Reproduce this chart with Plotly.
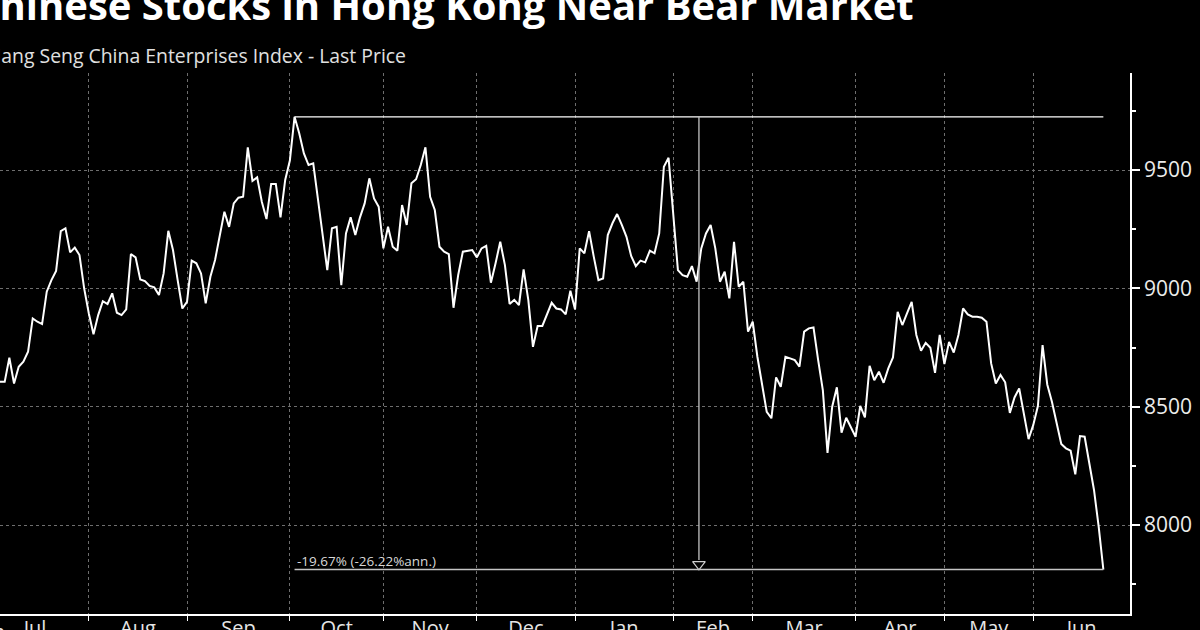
import plotly.graph_objects as go

# ---------------- data ----------------
values = [
    8605, 8605, 8707, 8598, 8669, 8690, 8732, 8873, 8859, 8849,
    8986, 9035, 9074, 9242, 9254, 9152, 9172, 9141, 9000, 8894,
    8806, 8887, 8946, 8934, 8979, 8897, 8887, 8911, 9145, 9131,
    9038, 9031, 9010, 9004, 8972, 9063, 9243, 9162, 9035, 8915,
    8943, 9117, 9106, 9063, 8937, 9049, 9120, 9218, 9324, 9260,
    9359, 9383, 9387, 9596, 9454, 9469, 9366, 9293, 9441, 9441,
    9300, 9458, 9540, 9725, 9655, 9570, 9521, 9528, 9373, 9218,
    9077, 9254, 9260, 9014, 9232, 9300, 9225, 9300, 9359, 9465,
    9380, 9345, 9169, 9260, 9176, 9159, 9352, 9268, 9444, 9461,
    9521, 9596, 9387, 9331, 9176, 9155, 9145, 8918, 9056, 9155,
    9159, 9162, 9131, 9169, 9180, 9024, 9106, 9197, 9098, 8934,
    8951, 8929, 9080, 8951, 8753, 8841, 8841, 8894, 8939, 8915,
    8911, 8890, 8990, 8911, 9169, 9148, 9242, 9134, 9035, 9042,
    9225, 9275, 9314, 9268, 9218, 9137, 9094, 9117, 9110, 9159,
    9148, 9232, 9514, 9552, 9310, 9077, 9056, 9049, 9094, 9028,
    9169, 9232, 9268, 9169, 9028, 9070, 8958, 9197, 9007, 9028,
    8817, 8859, 8711, 8591, 8478, 8451, 8624, 8584, 8711, 8704,
    8697, 8669, 8817, 8831, 8835, 8697, 8570, 8305, 8500, 8582,
    8390, 8453, 8415, 8373, 8503, 8455, 8673, 8612, 8648, 8601,
    8662, 8708, 8901, 8845, 8894, 8943, 8803, 8736, 8770, 8749,
    8643, 8803, 8680, 8774, 8729, 8803, 8915, 8890, 8880, 8880,
    8876, 8859, 8683, 8598, 8634, 8603, 8474, 8539, 8577, 8472,
    8363, 8422, 8503, 8760, 8594, 8521, 8432, 8342, 8324, 8314,
    8214, 8376, 8373, 8260, 8148, 7993, 7812,
]
days = list(range(len(values)))  # trading-day index

month_names = ["Jul", "Aug", "Sep", "Oct", "Nov", "Dec",
               "Jan", "Feb", "Mar", "Apr", "May", "Jun"]
month_starts = [-4, 19, 40, 62, 82, 102, 123, 144, 161, 183, 202, 221]
x_end = 241.7
first_label = "Jun"       # month label cut by the left edge

y_ticks = [8000, 8500, 9000, 9500]
change_text = "-19.67% (-26.22%ann.)"
title_text = "Chinese Stocks in Hong Kong Near Bear Market"
subtitle_text = "Hang Seng China Enterprises Index - Last Price"

# ---------------- derived ----------------
label_pos = [(month_starts[i] + (month_starts[i + 1] if i + 1 < len(month_starts) else x_end)) / 2
             for i in range(len(month_starts))]
peak_i = max(days, key=lambda i: values[i])
peak_v = values[peak_i]
last_i = days[-1]
last_v = values[-1]
mid_i = (peak_i + last_i) / 2

FONT = "Open Sans"
W, H = 1200, 630
ML, MR, MT, MB = 0, 70, 73, 16
PW, PH = W - ML - MR, H - MT - MB


def px(xp):
    return (xp - ML) / PW


def py(yp):
    return (H - MB - yp) / PH


fig = go.Figure()

fig.add_trace(go.Scatter(
    x=days, y=values, mode="lines",
    line=dict(color="#ffffff", width=2),
    hoverinfo="skip", showlegend=False,
))

# arrow head of the drawdown marker
fig.add_trace(go.Scatter(
    x=[mid_i], y=[last_v + 22], mode="markers",
    marker=dict(symbol="triangle-down-open", size=11, color="#d0d0d0",
                line=dict(width=1.2, color="#d0d0d0")),
    hoverinfo="skip", showlegend=False,
))

fig.add_shape(type="line", xref="x", yref="y", x0=peak_i, x1=last_i, y0=peak_v, y1=peak_v,
              line=dict(color="#ffffff", width=1.3))
fig.add_shape(type="line", xref="x", yref="y", x0=peak_i, x1=last_i, y0=last_v, y1=last_v,
              line=dict(color="#c4c4c4", width=1.3))
fig.add_shape(type="line", xref="x", yref="y", x0=mid_i, x1=mid_i, y0=peak_v, y1=last_v + 40,
              line=dict(color="#c4c4c4", width=1.3))

fig.add_annotation(
    x=peak_i, y=last_v, xref="x", yref="y", xanchor="left", yanchor="bottom",
    text=change_text, showarrow=False, xshift=0, yshift=-2,
    font=dict(family=FONT, size=13.5, color="#d8d8d8"),
)

# title and subtitle (cropped on the left as in the reference)
fig.add_annotation(
    x=px(-28), y=py(5), xref="paper", yref="paper", xanchor="left", yanchor="middle",
    text="<b>" + title_text + "</b>", showarrow=False,
    font=dict(family=FONT, size=40, color="#ffffff"),
)
fig.add_annotation(
    x=px(-15), y=py(55), xref="paper", yref="paper", xanchor="left", yanchor="middle",
    text=subtitle_text, showarrow=False,
    font=dict(family=FONT, size=19.4, color="#e0e0e0"),
)

# month label partially visible at the far left
fig.add_annotation(
    x=px(-11), y=py(631), xref="paper", yref="paper", xanchor="center", yanchor="middle",
    text=first_label, showarrow=False,
    font=dict(family=FONT, size=20, color="#e6e6e6"),
)

fig.update_layout(
    width=W, height=H,
    margin=dict(l=ML, r=MR, t=MT, b=MB),
    paper_bgcolor="#000000", plot_bgcolor="#000000",
    showlegend=False,
    xaxis=dict(
        range=[0, x_end], tickmode="array", tickvals=month_starts,
        showticklabels=False, ticks="outside", ticklen=5, tickcolor="#ffffff", tickwidth=1,
        showline=True, linecolor="#ffffff", linewidth=1.5,
        showgrid=True, gridcolor="#6e6e6e", griddash="dot", gridwidth=1,
        zeroline=False, automargin=False,
    ),
    xaxis2=dict(
        overlaying="x", side="bottom", range=[0, x_end], matches="x",
        tickmode="array", tickvals=label_pos, ticktext=month_names,
        ticks="", showline=False, showgrid=False, zeroline=False,
        tickfont=dict(family=FONT, size=20, color="#e6e6e6"),
        ticklabelstandoff=0, automargin=False,
    ),
    yaxis=dict(
        side="right", range=[7624, 9910], tickmode="array", tickvals=y_ticks,
        ticks="outside", ticklen=8, tickcolor="#ffffff", tickwidth=1.5,
        showline=True, linecolor="#ffffff", linewidth=1.5,
        showgrid=True, gridcolor="#6e6e6e", griddash="dot", gridwidth=1,
        zeroline=False, automargin=False,
        tickfont=dict(family=FONT, size=21, color="#ececec"),
        minor=dict(dtick=250, tick0=7750, ticks="outside", ticklen=4,
                   tickcolor="#ffffff", showgrid=False),
    ),
)

# dummy trace so xaxis2 is drawn
fig.add_trace(go.Scatter(x=[days[0]], y=[values[0]], xaxis="x2", mode="markers",
                         marker=dict(opacity=0), hoverinfo="skip", showlegend=False))

fig.write_html("out.html")
